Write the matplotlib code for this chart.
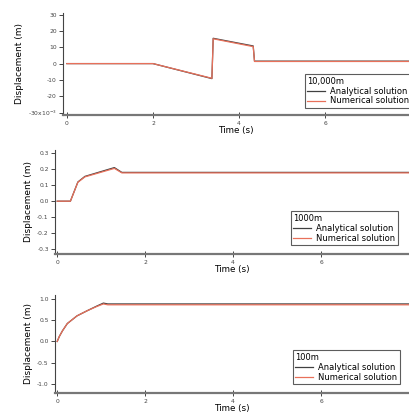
import matplotlib.pyplot as plt

# panel 1: 10,000m (values in x10^-3 m)
t1_ana = [0, 2.0, 3.37, 3.40, 4.33, 4.36, 8.0]
d1_ana = [0, 0, -9.2, 15.5, 10.8, 1.5, 1.5]
t1_num = [0, 2.0, 3.37, 3.40, 4.33, 4.36, 8.0]
d1_num = [0, 0, -9.0, 15.2, 10.4, 1.3, 1.3]
yt1 = [-30, -20, -10, 0, 10, 20, 30]
yl1 = ['-30x10$^{-3}$', '-20', '-10', '0', '10', '20', '30']

# panel 2: 1000m
t2_ana = [0, 0.3, 0.47, 0.63, 1.3, 1.47, 8.0]
d2_ana = [0, 0, 0.12, 0.155, 0.21, 0.18, 0.18]
t2_num = [0, 0.3, 0.47, 0.63, 1.3, 1.47, 8.0]
d2_num = [0, 0, 0.118, 0.152, 0.205, 0.177, 0.177]
yt2 = [-0.3, -0.2, -0.1, 0.0, 0.1, 0.2, 0.3]
yl2 = ['-0.3', '-0.2', '-0.1', '0.0', '0.1', '0.2', '0.3']

# panel 3: 100m
t3_ana = [0, 0.05, 0.12, 0.23, 0.45, 0.68, 0.9, 1.05, 1.15, 8.0]
d3_ana = [0, 0.12, 0.25, 0.42, 0.6, 0.72, 0.83, 0.9, 0.88, 0.88]
t3_num = [0, 0.05, 0.12, 0.23, 0.45, 0.68, 0.9, 1.05, 1.15, 8.0]
d3_num = [0, 0.12, 0.25, 0.42, 0.6, 0.72, 0.82, 0.88, 0.86, 0.86]
yt3 = [-1.0, -0.5, 0.0, 0.5, 1.0]
yl3 = ['-1.0', '-0.5', '0.0', '0.5', '1.0']

xt = [0, 2, 4, 6]
titulos = ['10,000m', '1000m', '100m']

W, H = 409, 416
fig = plt.figure(figsize=(W / 100, H / 100), dpi=100)
fig.patch.set_facecolor('white')

# (left px, right px, top px, bottom px, xlim, ylim)
cajas = [
    (63, 409, 13, 115, (-0.09, 7.95), (-31.5, 31)),
    (55, 409, 150, 254, (-0.05, 8.0), (-0.33, 0.32)),
    (55, 409, 295, 393, (-0.05, 8.0), (-1.21, 1.09)),
]
datos = [
    (t1_ana, d1_ana, t1_num, d1_num, yt1, yl1),
    (t2_ana, d2_ana, t2_num, d2_num, yt2, yl2),
    (t3_ana, d3_ana, t3_num, d3_num, yt3, yl3),
]
legpos = [(283, 70, 412, 108), (265, 203, 398, 245), (268, 341, 400, 384)]

for k in range(3):
    l, r, tp, bt, xl, yl = cajas[k]
    ax = fig.add_axes([l / W, 1 - bt / H, (r - l) / W, (bt - tp) / H])
    ta, da, tn, dn, yt, ylab = datos[k]
    ax.plot(ta, da, color='#404040', lw=0.9, label='Analytical solution')
    ax.plot(tn, dn, color='#e8705a', lw=0.9, label='Numerical solution')
    ax.set_xlim(xl)
    ax.set_ylim(yl)
    ax.set_xticks(xt)
    ax.set_xticklabels([str(v) for v in xt])
    ax.set_yticks(yt)
    ax.set_yticklabels(ylab)
    ax.spines['top'].set_visible(False)
    ax.spines['right'].set_visible(False)
    ax.spines['bottom'].set_color('#777777')
    ax.spines['bottom'].set_linewidth(1.6)
    ax.spines['left'].set_color('#444444')
    ax.tick_params(axis='y', labelsize=4.3, length=3, width=0.7, pad=1.5, colors='#444444')
    ax.tick_params(axis='x', labelsize=4.3, length=5, width=0.7, direction='inout', pad=1.5, colors='#444444')
    ax.set_ylabel('Displacement (m)', fontsize=6.5, labelpad=3)
    ax.set_xlabel('Time (s)', fontsize=6.3, labelpad=0.5)
    lx0, ly0, lx1, ly1 = legpos[k]
    leg = ax.legend(loc='lower right', bbox_to_anchor=((lx1 - l) / (r - l), (bt - ly1) / (bt - tp)),
                    title=titulos[k], fontsize=6, title_fontsize=6, frameon=True, fancybox=False,
                    handlelength=2.2, handletextpad=0.6, borderpad=0.3, labelspacing=0.1,
                    borderaxespad=0)
    leg._legend_box.align = 'left'
    leg.get_frame().set_edgecolor('#333333')
    leg.get_frame().set_linewidth(0.8)

fig.savefig('out.png', dpi=100)
